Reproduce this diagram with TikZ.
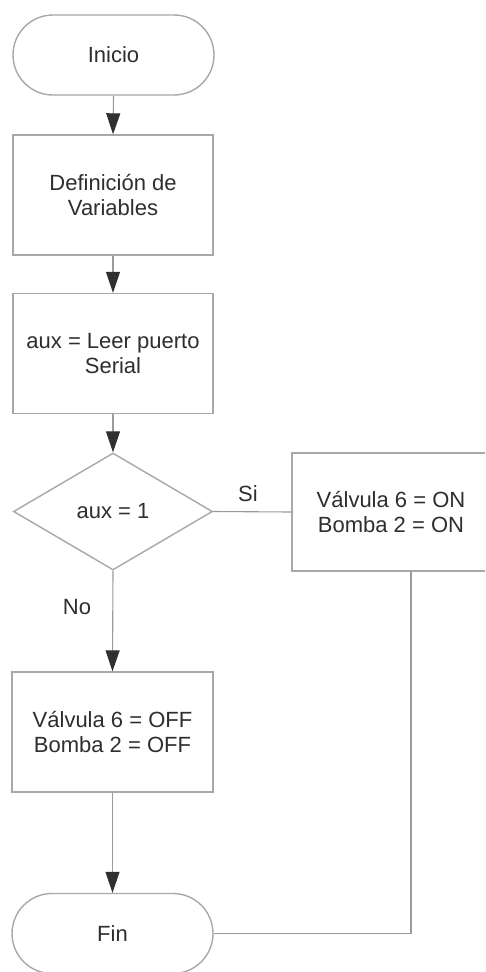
\documentclass[tikz,border=0pt]{standalone}
\usepackage{fontspec}
\setmainfont{Liberation Sans}
\usetikzlibrary{shapes.geometric,shapes.misc,arrows.meta}
\definecolor{boxline}{HTML}{A8A8A8}
\definecolor{conn}{HTML}{9A9A9A}
\definecolor{txt}{HTML}{2E2E2E}
\definecolor{tip}{HTML}{303030}
\tikzset{
  base/.style={draw=boxline, line width=1.4pt, text=txt, align=center, inner sep=0pt,
    font=\fontsize{22}{25.5}\selectfont},
  term/.style={base, rounded rectangle, minimum width=201pt, minimum height=80pt},
  proc/.style={base, rectangle, minimum width=200pt, minimum height=120pt},
  decis/.style={base, diamond, minimum width=199pt, minimum height=117pt},
  conn/.style={draw=conn, line width=1.1pt},
  flow/.style={conn, -{Triangle[length=21pt,width=14pt,fill=tip,color=tip]}},
  lbl/.style={text=txt, font=\fontsize{22}{25}\selectfont, inner sep=0pt}
}
\begin{document}
\begin{tikzpicture}[x=1pt,y=-1pt]
\useasboundingbox (0,0) rectangle (485,972);
\fill[white] (0,0) rectangle (485,972);
\clip (0,0) rectangle (485,972);
\node[term] (inicio) at (113.5,55) {Inicio};
\node[proc] (def) at (113,195) {Definición de\\Variables};
\node[proc] (leer) at (113,353.5) {aux = Leer puerto\\Serial};
\node[decis] (dec) at (113,511.5) {aux = 1};
\node[proc, minimum width=198pt, minimum height=118pt] (on) at (391,512) {Válvula 6 = ON\\Bomba 2 = ON};
\node[proc, minimum width=201pt] (off) at (112.5,732) {Válvula 6 = OFF\\Bomba 2 = OFF};
\node[term] (fin) at (112.5,933.5) {Fin};
\node[lbl] (si) at (248,494) {Si};
\node[lbl] (no) at (77,607) {No};
\coordinate (onout) at (411,571);
\coordinate (corner) at (411,933.5);
\draw[flow] (inicio.south) -- (def.north);
\draw[flow] (def.south) -- (leer.north);
\draw[flow] (leer.south) -- (dec.north);
\draw[conn] (dec.east) -- (on.west);
\draw[flow] (dec.south) -- (off.north);
\draw[flow] (off.south) -- (fin.north);
\draw[conn] (onout) -- (corner) -- (fin.east);
\end{tikzpicture}
\end{document}
